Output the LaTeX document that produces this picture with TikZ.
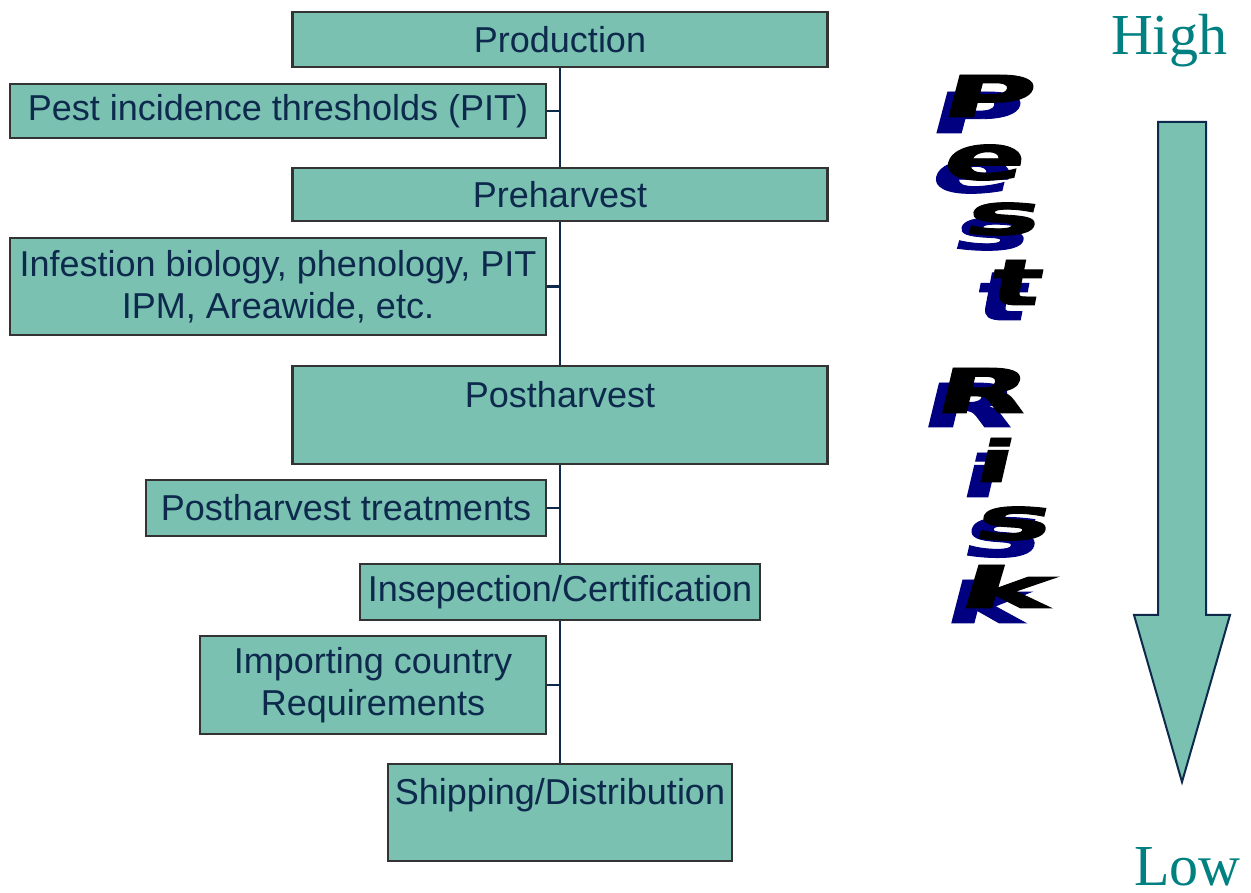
\documentclass[tikz,border=0pt]{standalone}
\usepackage{fontspec}
\usepackage{graphicx}
\setmainfont{Liberation Sans}
\newfontfamily\hlfont{Liberation Serif}
\newfontfamily\pestfont[FakeSlant=0.12,FakeBold=1.5]{DejaVu Sans}
\definecolor{boxfill}{HTML}{7AC1B1}
\definecolor{boxline}{HTML}{333333}
\definecolor{navytext}{HTML}{0D2A4D}
\definecolor{hlteal}{HTML}{008080}
\definecolor{shadownavy}{HTML}{000080}
\tikzset{
  box/.style={draw=boxline, line width=2.5pt, fill=boxfill, text=navytext,
    font=\fontsize{36}{42}\selectfont, align=center, inner sep=0pt},
  link/.style={draw=navytext, line width=1.2pt},
  stub/.style={draw=navytext, line width=2.5pt},
  hl/.style={text=hlteal, font=\hlfont\fontsize{58}{60}\selectfont, anchor=base, inner sep=0pt},
  pestl/.style={inner sep=0pt, outer sep=0pt},
}
\newcommand{\pestletter}[7]{\node[pestl, text=#6] (#7) at (#1,#2) {\resizebox{#3pt}{#4pt}{\pestfont\bfseries #5}};}
\begin{document}
\begin{tikzpicture}[x=1pt,y=1pt]
\useasboundingbox (0,0) rectangle (1251,893);
% boxes
\node[box, minimum width=535pt, minimum height=55pt] (prod) at (560,853.5) {Production};
\node[box, minimum width=536pt, minimum height=54pt] (pit) at (278,782) {Pest incidence thresholds (PIT)};
\node[box, minimum width=535pt, minimum height=53pt] (pre) at (560,698.5) {Preharvest};
\node[box, minimum width=536pt, minimum height=97pt] (inf) at (278,606.5) {Infestion biology, phenology, PIT\\IPM, Areawide, etc.};
\node[box, minimum width=535pt, minimum height=98pt] (post) at (560,478) {Postharvest\\~};
\node[box, minimum width=400pt, minimum height=56pt] (treat) at (346,385) {Postharvest treatments};
\node[box, minimum width=400pt, minimum height=56pt] (insp) at (560,301) {Insepection/Certification};
\node[box, minimum width=346pt, minimum height=98pt] (imp) at (373,208) {Importing country\\Requirements};
\node[box, minimum width=344pt, minimum height=97pt] (ship) at (560,80.5) {Shipping/Distribution\\~};
% connectors
\draw[link] (prod.south) -- (pre.north);
\draw[link] (pre.south) -- (post.north);
\draw[link] (post.south) -- (insp.north);
\draw[link] (insp.south) -- (ship.north);
\draw[stub] (pit.east) -- (pit.east -| prod.south);
\draw[stub] (inf.east) -- (inf.east -| prod.south);
\draw[stub] (treat.east) -- (treat.east -| prod.south);
\draw[stub] (imp.east) -- (imp.east -| prod.south);
% big arrow
\draw[draw=navytext, line width=2pt, fill=boxfill, line join=miter]
  (1158,771) -- (1206,771) -- (1206,278) -- (1230,278) -- (1182,111)
  -- (1134,278) -- (1158,278) -- cycle;
\node[hl] (high) at (1169,838) {High};
\node[hl] (low) at (1187.5,7) {Low};
% Pest Risk shadows
\pestletter{971.5}{780.5}{91}{41}{P}{shadownavy}{sP}
\pestletter{969}{716.5}{82}{33}{e}{shadownavy}{se}
\pestletter{988}{659}{76}{32}{s}{shadownavy}{ss}
\pestletter{998.5}{596.5}{51}{47}{t}{shadownavy}{st}
\pestletter{965}{488}{94}{44}{R}{shadownavy}{sR}
\pestletter{977.5}{418}{39}{44}{i}{shadownavy}{si}
\pestletter{998.5}{355.5}{77}{39}{s}{shadownavy}{ss2}
\pestletter{982.5}{291.5}{81}{43}{k}{shadownavy}{sk}
% Pest Risk letters
\pestletter{984}{797}{92}{42}{P}{black}{lP}
\pestletter{981}{730.5}{82}{35}{e}{black}{le}
\pestletter{999.5}{674}{75}{32}{s}{black}{ls}
\pestletter{1012.5}{610.5}{51}{45}{t}{black}{lt}
\pestletter{978.5}{502.5}{93}{45}{R}{black}{lR}
\pestletter{991}{433}{38}{44}{i}{black}{li}
\pestletter{1010}{369.5}{76}{33}{s}{black}{ls2}
\pestletter{1001.5}{306.5}{93}{43}{k}{black}{lk}
\end{tikzpicture}
\end{document}
